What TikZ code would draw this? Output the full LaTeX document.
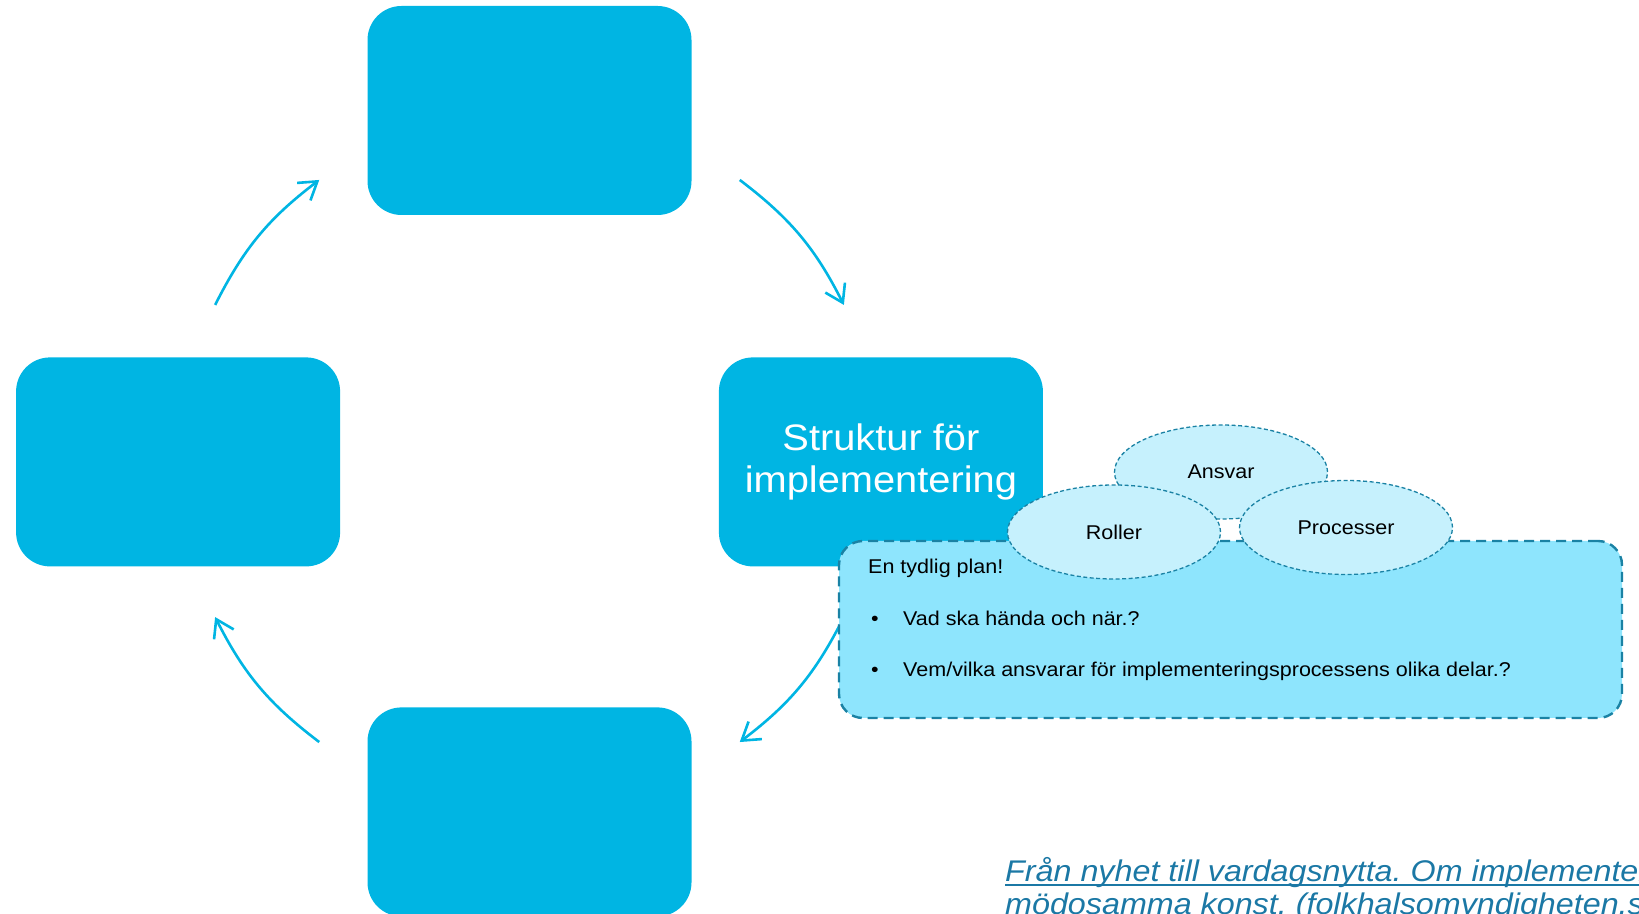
\documentclass[tikz,border=0pt]{standalone}
\usepackage{fontspec}
\setmainfont[FakeStretch=1.08]{Liberation Sans}
\usetikzlibrary{positioning,arrows.meta,shapes.geometric}
\frenchspacing

\definecolor{cyclecyan}{RGB}{0,181,227}
\definecolor{planfill}{RGB}{142,229,253}
\definecolor{ovalfill}{RGB}{198,241,253}
\definecolor{dashteal}{RGB}{26,130,164}
\definecolor{citeblue}{RGB}{27,120,165}
\newcommand{\citeul}[1]{\setbox0\hbox{#1}\rlap{\rule[-4.5bp]{\wd0}{1.8bp}}\box0}

\begin{document}
\begin{tikzpicture}[x=1bp,y=1bp,
	cyclebox/.style={rectangle,rounded corners=34bp,fill=cyclecyan,minimum width=324bp,minimum height=209bp,inner sep=0pt},
	cyclearrow/.style={draw=cyclecyan,line width=2.6bp,-{Straight Barb[length=17bp,width=22bp]},bend left=13},
	planbox/.style={rectangle,rounded corners=24bp,draw=dashteal,fill=planfill,line width=2.4bp,dash pattern=on 10bp off 6bp,minimum width=783bp,minimum height=177bp},
	oval/.style={ellipse,draw=dashteal,fill=ovalfill,line width=1.3bp,dash pattern=on 4bp off 2.5bp,minimum width=213bp,minimum height=94bp,inner sep=0pt,font=\fontsize{20}{24}\selectfont},
	plantext/.style={anchor=base west,inner sep=0pt,font=\fontsize{20}{24}\selectfont},
	citetext/.style={anchor=base west,inner sep=0pt,text=citeblue,font=\fontsize{30}{34}\selectfont\itshape}]
		\clip (0,0) rectangle (1639,913);

		\node[cyclebox]															(top)		at (529.5,802.5) {};
		\node[cyclebox,below left=142bp and 27bp of top]						(left)		{};
		\node[cyclebox,below right=142bp and 27bp of top,text=white,align=center,font=\fontsize{37}{43}\selectfont]	(right)	{Struktur för\\implementering};
		\node[cyclebox,below=492bp of top]										(bottom)	{};

		\coordinate (hub) at (529.5,452);
		\coordinate (tl1) at ([shift={(153.6:351)}]hub);
		\coordinate (tl2) at ([shift={(126.8:351)}]hub);
		\coordinate (tr1) at ([shift={(53.2:351)}]hub);
		\coordinate (tr2) at ([shift={(26.4:351)}]hub);
		\coordinate (br1) at ([shift={(-26.4:351)}]hub);
		\coordinate (br2) at ([shift={(-53.2:351)}]hub);
		\coordinate (bl1) at ([shift={(-126.8:351)}]hub);
		\coordinate (bl2) at ([shift={(-153.6:351)}]hub);

		\draw[cyclearrow] (tl1) to (tl2);
		\draw[cyclearrow] (tr1) to (tr2);
		\draw[cyclearrow] (br1) to (br2);
		\draw[cyclearrow] (bl1) to (bl2);

		\node[planbox]		(plan)		at (1230.5,283.5) {};
		\node[oval]			(ansvar)	at (1221,441) {Ansvar};
		\node[oval]			(roller)	at (1114,381) {Roller};
		\node[oval]			(processer)	at (1346,385.5) {Processer};

		\node[plantext]		(plantitle)	at (868,339) {En tydlig plan!};
		\node[plantext]		(vad)		at (871,287) {\makebox[32bp][l]{•}Vad ska hända och när.?};
		\node[plantext]		(vem)		at (871,236) {\makebox[32bp][l]{•}Vem/vilka ansvarar för implementeringsprocessens olika delar.?};

		\node[citetext]		(cite1)		at (1005,32) {\citeul{Från nyhet till vardagsnytta. Om implementeringens}};
		\node[citetext]		(cite2)		at (1005,-1) {\citeul{mödosamma konst. (folkhalsomyndigheten.se)}};
	\end{tikzpicture}
\end{document}
